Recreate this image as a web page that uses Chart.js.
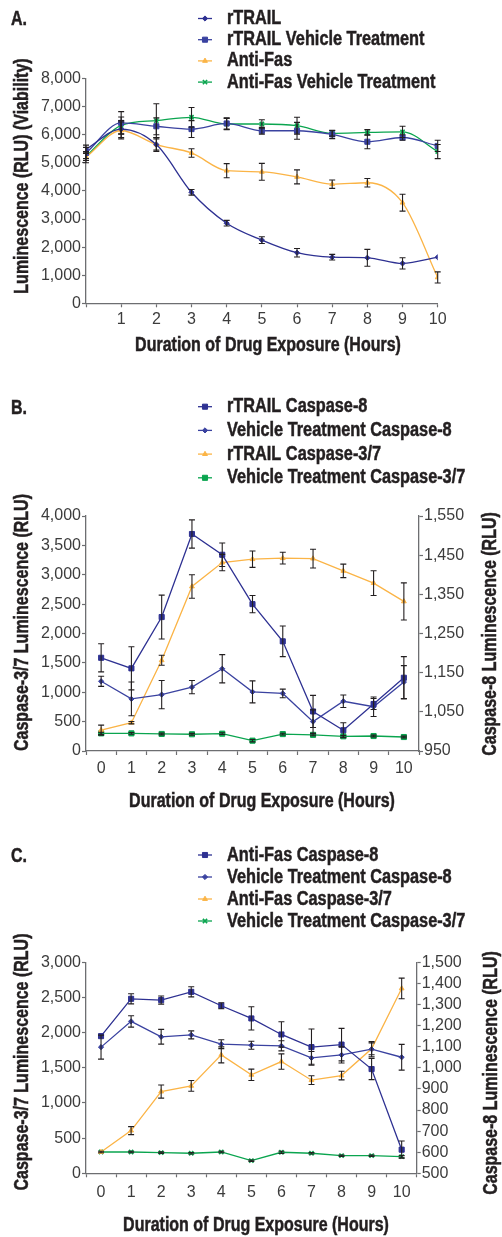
<!DOCTYPE html>
<html><head><meta charset="utf-8">
<script src="https://cdn.jsdelivr.net/npm/chart.js@4.4.1/dist/chart.umd.min.js"></script>
<style>
html,body{margin:0;padding:0;background:#fff;}
body{width:502px;height:1237px;position:relative;overflow:hidden;}
.panel{position:absolute;left:0;width:502px;}
canvas{display:block;}
</style></head><body>
<div class="panel" style="top:0;height:365px"><canvas id="cA" width="502" height="365" style="width:502px;height:365px"></canvas></div>
<div class="panel" style="top:365px;height:455px"><canvas id="cB" width="502" height="455" style="width:502px;height:455px"></canvas></div>
<div class="panel" style="top:820px;height:417px"><canvas id="cC" width="502" height="417" style="width:502px;height:417px"></canvas></div>
<script>
// ---------- DATA ----------
// Panel A: viability
const aHours = [0,1,2,3,4,5,6,7,8,9,10];
const aRTRAIL = [5480,6200,5650,3950,2850,2250,1800,1640,1620,1420,1640];
const aRTRAILErr = [150,300,200,100,100,120,150,100,300,200,0];
const aRTRAILVeh = [5350,6420,6300,6200,6400,6140,6140,6010,5750,5900,5600];
const aRTRAILVehErr = [200,400,300,300,200,120,300,150,250,100,200];
const aAntiFas = [5200,6150,5650,5350,4720,4680,4500,4240,4290,3580,920];
const aAntiFasErr = [200,300,250,150,250,300,250,150,150,300,200];
const aAntiFasVeh = [5230,6330,6500,6620,6380,6380,6320,6050,6080,6100,5400];
const aAntiFasVehErr = [150,300,600,350,200,150,300,100,100,200,250];
const aYTicks = {min:0, max:8000, step:1000};
const aLabels = ['rTRAIL','rTRAIL Vehicle Treatment','Anti-Fas','Anti-Fas Vehicle Treatment'];

// Panel B: rTRAIL caspases
const hourCats = ['0','1','2','3','4','5','6','7','8','9','10'];
const bRTRAILC8 = [1188,1161,1292,1504,1451,1325,1230,1051,1003,1070,1137];
const bRTRAILC8Err = [36,55,56,36,30,22,39,41,19,14,54];
const bVehC8 = [1128,1083,1094,1113,1160,1101,1097,1025,1077,1063,1126];
const bVehC8Err = [13,43,36,17,36,28,11,30,16,25,42];
const bRTRAILC37 = [356,482,1544,2800,3207,3265,3282,3275,3066,2857,2546];
const bRTRAILC37Err = [85,20,85,200,140,140,100,160,115,210,315];
const bVehC37 = [300,300,290,285,295,176,288,275,250,255,238];
const bVehC37Err = [20,15,15,15,15,20,15,15,15,15,15];
const bLeftTicks = {min:0, max:4000, step:500};
const bRightTicks = {min:950, max:1550, step:100};
const bLabels = ['rTRAIL Caspase-8','Vehicle Treatment Caspase-8','rTRAIL Caspase-3/7','Vehicle Treatment Caspase-3/7'];

// Panel C: Anti-Fas caspases
const cAFC8 = [1150,1327,1321,1360,1294,1234,1158,1098,1110,994,612];
const cAFC8Err = [0,24,19,24,14,55,60,86,77,50,41];
const cVehC8 = [1098,1220,1147,1156,1112,1107,1104,1047,1061,1088,1050];
const cVehC8Err = [57,27,35,19,21,19,24,30,38,36,61];
const cAFC37 = [303,607,1162,1243,1684,1400,1589,1324,1390,1770,2628];
const cAFC37Err = [0,57,93,76,114,81,109,62,62,85,147];
const cVehC37 = [303,303,294,285,303,180,299,285,251,251,237];
const cVehC37Err = [10,10,10,10,10,10,15,10,10,10,15];
const cLeftTicks = {min:0, max:3000, step:500};
const cRightTicks = {min:500, max:1500, step:100};
const cLabels = ['Anti-Fas Caspase-8','Vehicle Treatment Caspase-8','Anti-Fas Caspase-3/7','Vehicle Treatment Caspase-3/7'];

const xTitle = 'Duration of Drug Exposure (Hours)';

// ---------- STYLE ----------
const NAVY = '#2e3192', NAVY2 = '#3a42a0', ORANGE = '#fbb446', GREEN = '#0aa54f';
const AXIS = '#6d6e71', TXT = '#231f20', TICKTXT = '#3c3c3c';
const TICKF = '"Liberation Sans", Arial, sans-serif';
const BOLDF = 'bold 20px "Liberation Sans", Arial, sans-serif';

function narrowText(ctx, text, x, y, rot, align, sx) {
  ctx.save();
  ctx.font = BOLDF; ctx.fillStyle = TXT; ctx.strokeStyle = TXT; ctx.lineWidth = 0.5;
  ctx.textAlign = align || 'center'; ctx.textBaseline = 'middle';
  ctx.translate(x, y);
  if (rot) ctx.rotate(rot);
  ctx.scale(sx || 0.8, 1);
  ctx.fillText(text, 0, 0);
  ctx.strokeText(text, 0, 0);
  ctx.restore();
}

const errorBars = {
  id: 'errorBars',
  afterDatasetsDraw(chart) {
    const ctx = chart.ctx;
    chart.data.datasets.forEach((ds, i) => {
      if (!ds.errors) return;
      const meta = chart.getDatasetMeta(i);
      const ys = chart.scales[ds.yAxisID || 'y'];
      ctx.save();
      ctx.strokeStyle = TXT; ctx.lineWidth = 1.1;
      meta.data.forEach((pt, j) => {
        const e = ds.errors[j]; if (!e) return;
        const raw = ds.data[j];
        const v = (typeof raw === 'object') ? raw.y : raw;
        const yT = ys.getPixelForValue(v + e), yB = ys.getPixelForValue(v - e);
        const x = pt.x;
        ctx.beginPath();
        ctx.moveTo(x, yT); ctx.lineTo(x, yB);
        ctx.moveTo(x - 3, yT); ctx.lineTo(x + 3, yT);
        ctx.moveTo(x - 3, yB); ctx.lineTo(x + 3, yB);
        ctx.stroke();
      });
      ctx.restore();
    });
  }
};

const lineLegend = {
  id: 'lineLegend',
  afterDraw(chart, args, o) {
    const ctx = chart.ctx;
    chart.data.datasets.forEach((ds, i) => {
      const y = o.y0 + i * o.dy;
      ctx.save();
      ctx.strokeStyle = ds.borderColor; ctx.lineWidth = 1.3;
      ctx.beginPath(); ctx.moveTo(o.x0, y); ctx.lineTo(o.x0 + 14, y); ctx.stroke();
      ctx.fillStyle = ds.pointBackgroundColor; ctx.strokeStyle = ds.pointBorderColor;
      ctx.lineWidth = ds.pointBorderWidth;
      Chart.helpers.drawPoint(ctx, {pointStyle: ds.pointStyle, radius: ds.pointRadius, borderWidth: ds.pointBorderWidth, rotation: 0}, o.x0 + 7, y);
      ctx.restore();
      narrowText(ctx, ds.label, o.textX, y, 0, 'left', 0.815);
    });
  }
};

const panelText = {
  id: 'panelText',
  afterDraw(chart, args, o) {
    (o.items || []).forEach(it => narrowText(chart.ctx, it.text, it.x, it.y, it.rot, it.align, 0.8));
  }
};

function ds(label, values, errs, color, style, radius, yAxisID, xs) {
  return {
    label, errors: errs,
    data: xs ? xs.map((x, i) => ({x, y: values[i]})) : values,
    yAxisID: yAxisID || 'y',
    borderColor: color, backgroundColor: color,
    pointBackgroundColor: color, pointBorderColor: color,
    pointStyle: style, pointRadius: radius, pointBorderWidth: style === 'crossRot' ? 1.6 : 1,
    pointHoverRadius: radius,
    borderWidth: 1.3, fill: false
  };
}

function yAxis(pos, t, width) {
  return {
    type: 'linear', position: pos, min: t.min, max: t.max,
    ticks: {stepSize: t.step, autoSkip: false, maxTicksLimit: 30, color: TICKTXT, padding: 1,
      font: {family: TICKF, size: 16}, callback: v => v.toLocaleString('en-US')},
    grid: {drawOnChartArea: false, tickLength: 4, tickColor: AXIS, tickWidth: 1.2},
    border: {color: AXIS, width: 1.3},
    afterFit(s) { s.width = width; }
  };
}

function catAxis(height, pad) {
  return {
    type: 'category', labels: hourCats, offset: true,
    ticks: {autoSkip: false, maxRotation: 0, color: TICKTXT, padding: pad, font: {family: TICKF, size: 16}},
    grid: {offset: true, drawOnChartArea: false, tickLength: 4, tickColor: AXIS, tickWidth: 1.2},
    border: {color: AXIS, width: 1.3},
    afterFit(s) { s.height = height; }
  };
}

const common = {
  responsive: false, animation: false, devicePixelRatio: 1,
  events: [],
};

// ---------- PANEL A ----------
new Chart(document.getElementById('cA'), {
  type: 'line',
  data: {
    datasets: [
      ds(aLabels[0], aRTRAIL, aRTRAILErr, NAVY, 'rectRot', 2.6, 'y', aHours),
      ds(aLabels[1], aRTRAILVeh, aRTRAILVehErr, NAVY2, 'rect', 3.6, 'y', aHours),
      ds(aLabels[2], aAntiFas, aAntiFasErr, ORANGE, 'triangle', 2.8, 'y', aHours),
      ds(aLabels[3], aAntiFasVeh, aAntiFasVehErr, GREEN, 'crossRot', 3, 'y', aHours)
    ].map(d => Object.assign(d, {cubicInterpolationMode: 'monotone'}))
  },
  options: Object.assign({}, common, {
    layout: {padding: {top: 78.5, right: 64.3, left: 0, bottom: 0}},
    scales: {
      x: {
        type: 'linear', min: 0, max: 10,
        ticks: {stepSize: 1, autoSkip: false, color: TICKTXT, padding: 3, font: {family: TICKF, size: 16},
          callback: v => (v === 0 ? '' : String(v))},
        grid: {drawOnChartArea: false, tickLength: 4, tickColor: AXIS, tickWidth: 1.2},
        border: {color: AXIS, width: 1.3},
        afterFit(s) { s.height = 365 - 303.3; }
      },
      y: yAxis('left', aYTicks, 86)
    },
    plugins: {
      legend: {display: false}, tooltip: {enabled: false},
      lineLegend: {x0: 198, textX: 227, y0: 18.5, dy: 21.2},
      panelText: {items: [
        {text: 'A.', x: 11, y: 19, align: 'left'},
        {text: 'Luminescence (RLU) (Viability)', x: 22, y: 176, rot: -Math.PI / 2},
        {text: xTitle, x: 268, y: 345}
      ]}
    }
  }),
  plugins: [errorBars, lineLegend, panelText]
});

// ---------- PANEL B ----------
new Chart(document.getElementById('cB'), {
  type: 'line',
  data: {
    labels: hourCats,
    datasets: [
      ds(bLabels[0], bRTRAILC8, bRTRAILC8Err, NAVY, 'rect', 3.6, 'y1'),
      ds(bLabels[1], bVehC8, bVehC8Err, NAVY2, 'rectRot', 2.6, 'y1'),
      ds(bLabels[2], bRTRAILC37, bRTRAILC37Err, ORANGE, 'triangle', 2.8, 'y'),
      ds(bLabels[3], bVehC37, bVehC37Err, GREEN, 'rect', 3.6, 'y')
    ]
  },
  options: Object.assign({}, common, {
    layout: {padding: {top: 151, right: 0, left: 0, bottom: 0}},
    scales: {
      x: catAxis(455 - 386, 3.7),
      y: yAxis('left', bLeftTicks, 86),
      y1: yAxis('right', bRightTicks, 83)
    },
    plugins: {
      legend: {display: false}, tooltip: {enabled: false},
      lineLegend: {x0: 198, textX: 227, y0: 41.7, dy: 23.7},
      panelText: {items: [
        {text: 'B.', x: 11, y: 43, align: 'left'},
        {text: 'Caspase-3/7 Luminescence (RLU)', x: 22, y: 257.5, rot: -Math.PI / 2},
        {text: 'Caspase-8 Luminescence (RLU)', x: 490, y: 269, rot: -Math.PI / 2},
        {text: xTitle, x: 262, y: 436}
      ]}
    }
  }),
  plugins: [errorBars, lineLegend, panelText]
});

// ---------- PANEL C ----------
new Chart(document.getElementById('cC'), {
  type: 'line',
  data: {
    labels: hourCats,
    datasets: [
      ds(cLabels[0], cAFC8, cAFC8Err, NAVY, 'rect', 3.6, 'y1'),
      ds(cLabels[1], cVehC8, cVehC8Err, NAVY2, 'rectRot', 2.6, 'y1'),
      ds(cLabels[2], cAFC37, cAFC37Err, ORANGE, 'triangle', 2.8, 'y'),
      ds(cLabels[3], cVehC37, cVehC37Err, GREEN, 'crossRot', 3, 'y')
    ]
  },
  options: Object.assign({}, common, {
    layout: {padding: {top: 142.3, right: 0, left: 0, bottom: 0}},
    scales: {
      x: catAxis(417 - 353.3, 5.4),
      y: yAxis('left', cLeftTicks, 86),
      y1: yAxis('right', cRightTicks, 85.3)
    },
    plugins: {
      legend: {display: false}, tooltip: {enabled: false},
      lineLegend: {x0: 198, textX: 227, y0: 35, dy: 22},
      panelText: {items: [
        {text: 'C.', x: 11, y: 36, align: 'left'},
        {text: 'Caspase-3/7 Luminescence (RLU)', x: 22, y: 242, rot: -Math.PI / 2},
        {text: 'Caspase-8 Luminescence (RLU)', x: 491, y: 253, rot: -Math.PI / 2},
        {text: xTitle, x: 256, y: 405}
      ]}
    }
  }),
  plugins: [errorBars, lineLegend, panelText]
});
</script>
</body></html>
